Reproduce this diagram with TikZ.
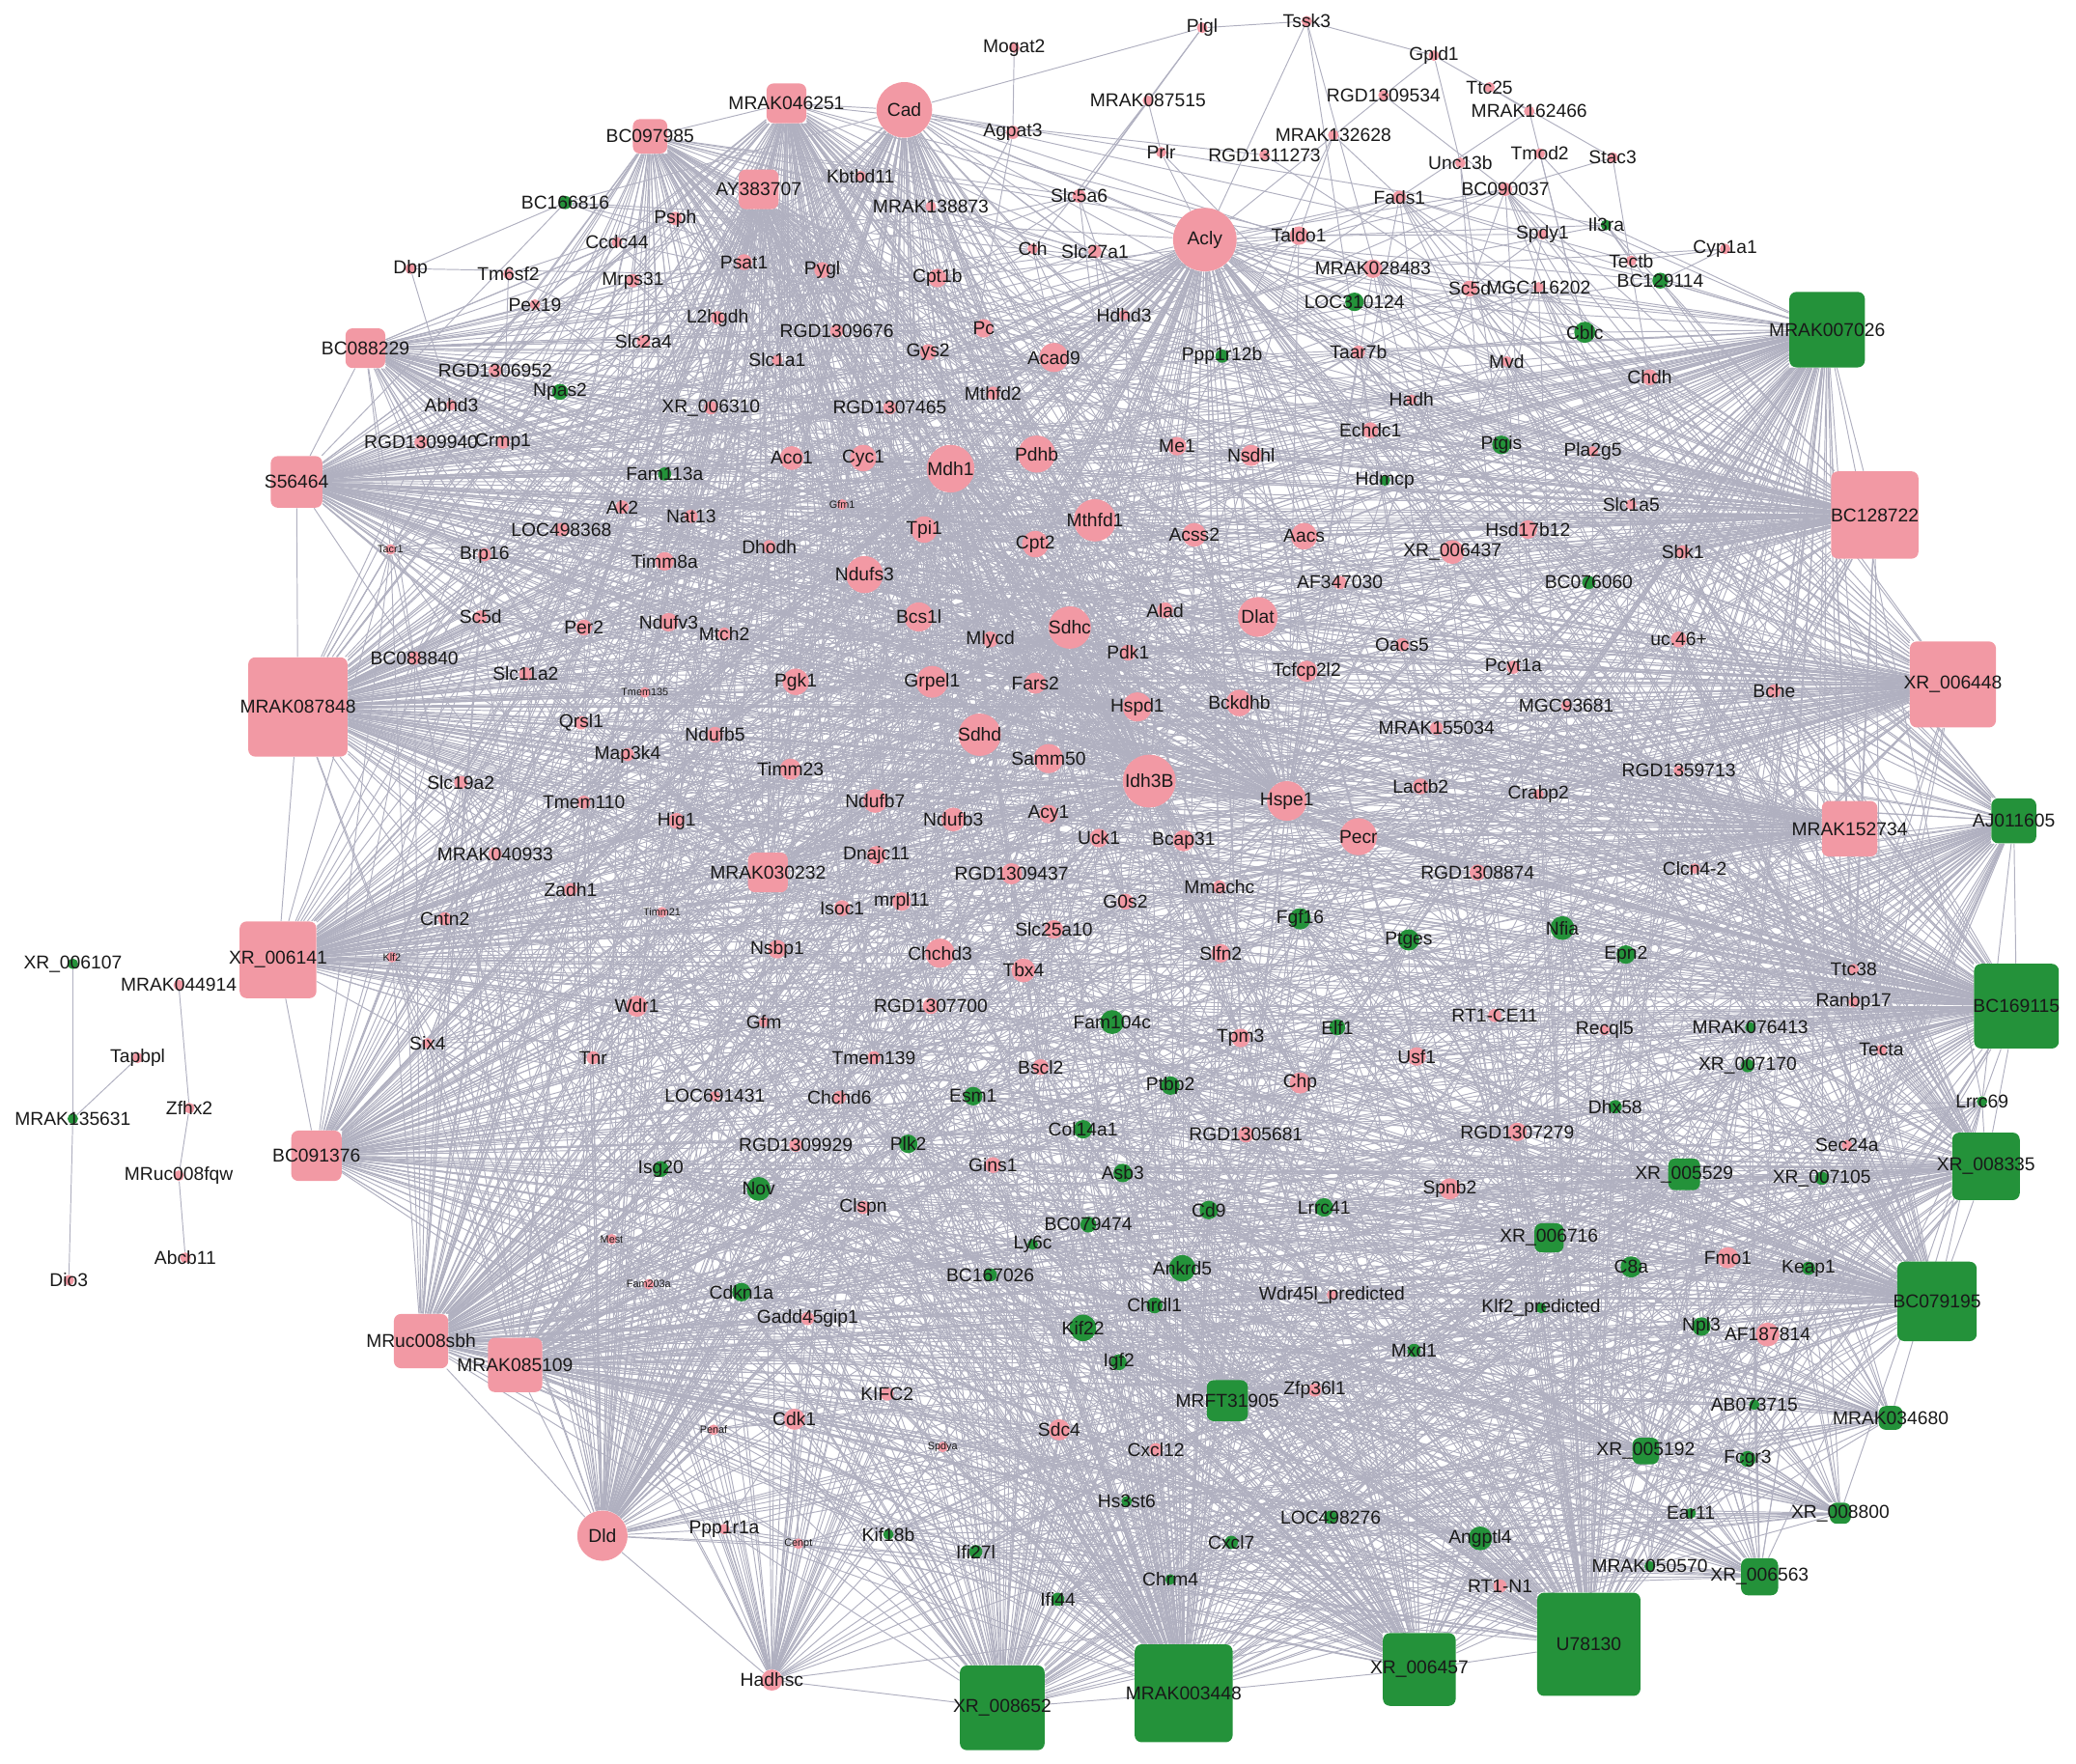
\documentclass[tikz,border=0pt]{standalone}
\usepackage{fontspec}
\setmainfont{Liberation Sans}
\usetikzlibrary{backgrounds}
\definecolor{netpink}{RGB}{242,153,164}
\definecolor{netgreen}{RGB}{36,146,58}
\definecolor{netedge}{RGB}{176,176,192}
\definecolor{nettext}{RGB}{25,25,25}

% target groups of the co-expression fans
\newcommand{\pinkTop}{Psph,Ccdc44,Psat1,Pygl,Cpt1b,Mrps31,Pex19,L2hgdh,RGD1309676,Pc,Slc2a4,Gys2,Slc1a1,Acad9,RGD1306952,Abhd3,XR006310,RGD1307465,Mthfd2,RGD1309940,Crmp1,Aco1,Cyc1,Mdh1,Pdhb,Me1,Nsdhl,Cth,Slc27a1,Kbtbd11,MRAK138873,Slc5a6,Taldo1,Hdhd3}
\newcommand{\pinkMid}{Ak2,Nat13,LOC498368,Gfm1,Tpi1,Cpt2,Mthfd1,Acss2,Aacs,Tacr1,Brp16,Dhodh,Timm8a,Ndufs3,AF347030,Ndufv3,Sc5dB,Per2,Mtch2,Bcs1l,Mlycd,Sdhc,Alad,Dlat,Pdk1,BC088840,Slc11a2,Tmem135,Pgk1,Grpel1,Fars2,Tcfcp2l2,Hspd1,Bckdhb,Qrsl1,Ndufb5,Sdhd,Map3k4,Timm23,Samm50,Idh3B}
\newcommand{\pinkLow}{Slc19a2,Tmem110,Ndufb7,Hspe1,Hig1,Ndufb3,Acy1,MRAK040933,Dnajc11,Uck1,Bcap31,Pecr,RGD1309437,Zadh1,Mmachc,Isoc1,mrpl11,G0s2,Cntn2,Timm21,Klf2,Nsbp1,Chchd3,Slc25a10,Tbx4,Slfn2,Wdr1,Gfm,RGD1307700,Tpm3,Six4,Tnr,Tmem139,Bscl2,LOC691431,Chchd6,Chp}
\newcommand{\pinkRight}{Fads1,BC090037,MRAK028483,Sc5d,MGC116202,Taar7b,Mvd,Chdh,Hadh,Echdc1,Pla2g5,Slc1a5,Hsd17b12,XR006437,Sbk1,Oacs5,uc46,Pcyt1a,MGC93681,Bche,MRAK155034,RGD1359713,Lactb2,Crabp2,RGD1308874,Clcn4-2,RT1-CE11,Recql5,Ttc38,Ranbp17,Usf1,Tecta,RGD1305681,RGD1307279,Spnb2,Sec24a}
\newcommand{\pinkBot}{RGD1309929,Gins1,Clspn,Mest,Fam203a,Gadd45gip1,Wdr45l,Fmo1,AF187814,Zfp36l1,KIFC2,Penaf,Cdk1,Sdc4,Spdya,Cxcl12,Ppp1r1a,Cenpt,RT1-N1}
\newcommand{\greenAll}{Fgf16,Ptges,Nfia,Epn2,Fam104c,Elf1,MRAK076413,XR007170,Esm1,Ptbp2,Dhx58,Lrrc69,Col14a1,Plk2,Asb3,Nov,Isg20,XR007105,Cd9,Lrrc41,Ly6c,BC079474,C8a,Keap1,Cdkn1a,BC167026,Ankrd5,Chrdl1,Klf2p,Npl3,Kif22,Mxd1,Igf2,AB073715,Fcgr3,Hs3st6,Kif18b,Ifi27l,Cxcl7,LOC498276,Angptl4,Ear11,Chrm4,Ifi44,MRAK050570}
\newcommand{\greenTop}{BC166816,Il3ra,BC129114,LOC310124,Cblc,Ppp1r12b,Npas2,Ptgis,Fam113a,Hdmcp,BC076060}

\begin{document}
\begin{tikzpicture}[x=0.02cm, y=-0.02cm,
    pk/.style={circle, fill=netpink, inner sep=0pt, minimum size={#1*0.02cm}},
    gn/.style={circle, fill=netgreen, inner sep=0pt, minimum size={#1*0.02cm}},
    pksq/.style={rectangle, rounded corners=3pt, fill=netpink, inner sep=0pt, minimum size={#1*0.02cm}},
    gnsq/.style={rectangle, rounded corners=3pt, fill=netgreen, inner sep=0pt, minimum size={#1*0.02cm}},
    every label/.style={font=\fontsize{8}{9}\selectfont, text=nettext, inner sep=0pt},
    tinylab/.style={label={[font=\fontsize{4.5}{5}\selectfont]center:#1}},
    link/.style={draw=netedge, line width=0.4pt}
  ]
  \useasboundingbox (0,0) rectangle (1568,1332);

  % top, sparse
  \node[pk=8, label=center:Mogat2] (Mogat2) at (766,36) {};
  \node[pk=8, label=center:Pigl] (Pigl) at (908,21) {};
  \node[pk=8, label=center:Tssk3] (Tssk3) at (987,16) {};
  \node[pk=8, label=center:Gpld1] (Gpld1) at (1083,42) {};
  \node[pk=8, label=center:Ttc25] (Ttc25) at (1125,66) {};
  \node[pk=8, label=center:MRAK162466] (MRAK162466) at (1155,84) {};
  \node[pk=8, label=center:RGD1309534] (RGD1309534) at (1045,72) {};
  \node[pk=8, label=center:MRAK087515] (MRAK087515) at (867,76) {};
  \node[pk=10, label=center:Agpat3] (Agpat3) at (765,100) {};
  \node[pk=8, label=center:MRAK132628] (MRAK132628) at (1007,102) {};
  \node[pk=8, label=center:Prlr] (Prlr) at (877,115) {};
  \node[pk=8, label=center:RGD1311273] (RGD1311273) at (955,117) {};
  \node[pk=8, label=center:Unc13b] (Unc13b) at (1103,123) {};
  \node[pk=8, label=center:Tmod2] (Tmod2) at (1163,116) {};
  \node[pk=8, label=center:Stac3] (Stac3) at (1218,119) {};
  \node[pk=8, label=center:Spdy1] (Spdy1) at (1165,177) {};
  \node[pk=8, label=center:Cyp1a1] (Cyp1a1) at (1303,188) {};
  \node[pk=8, label=center:Tectb] (Tectb) at (1232,197) {};
  \node[pk=8, label=center:Dbp] (Dbp) at (310,203) {};
  \node[pk=8, label=center:Tm6sf2] (Tm6sf2) at (384,207) {};

  % pink, upper
  \node[pk=10, label=center:Psph] (Psph) at (510,165) {};
  \node[pk=8, label=center:Ccdc44] (Ccdc44) at (466,183) {};
  \node[pk=12, label=center:Psat1] (Psat1) at (562,198) {};
  \node[pk=12, label=center:Pygl] (Pygl) at (621,204) {};
  \node[pk=14, label=center:Cpt1b] (Cpt1b) at (708,210) {};
  \node[pk=10, label=center:Mrps31] (Mrps31) at (478,212) {};
  \node[pk=8, label=center:Pex19] (Pex19) at (404,230) {};
  \node[pk=10, label=center:L2hgdh] (L2hgdh) at (542,240) {};
  \node[pk=10, label=center:RGD1309676] (RGD1309676) at (632,250) {};
  \node[pk=14, label=center:Pc] (Pc) at (743,248) {};
  \node[pk=10, label=center:Slc2a4] (Slc2a4) at (486,258) {};
  \node[pk=12, label=center:Gys2] (Gys2) at (701,266) {};
  \node[pk=8, label=center:Slc1a1] (Slc1a1) at (587,272) {};
  \node[pk=22, label=center:Acad9] (Acad9) at (796,270) {};
  \node[pk=10, label=center:RGD1306952] (RGD1306952) at (374,280) {};
  \node[pk=8, label=center:Abhd3] (Abhd3) at (341,306) {};
  \node[pk=10, label=center:XR\_006310] (XR006310) at (537,308) {};
  \node[pk=10, label=center:RGD1307465] (RGD1307465) at (672,308) {};
  \node[pk=10, label=center:Mthfd2] (Mthfd2) at (750,297) {};
  \node[pk=10, label=center:RGD1309940] (RGD1309940) at (318,334) {};
  \node[pk=10, label=center:Crmp1] (Crmp1) at (380,334) {};
  \node[pk=18, label=center:Aco1] (Aco1) at (598,346) {};
  \node[pk=20, label=center:Cyc1] (Cyc1) at (652,346) {};
  \node[pk=36, label=center:Mdh1] (Mdh1) at (718,354) {};
  \node[pk=28, label=center:Pdhb] (Pdhb) at (783,343) {};
  \node[pk=14, label=center:Me1] (Me1) at (889,337) {};
  \node[pk=16, label=center:Nsdhl] (Nsdhl) at (945,344) {};
  \node[pk=8, label=center:Cth] (Cth) at (780,188) {};
  \node[pk=10, label=center:Slc27a1] (Slc27a1) at (827,190) {};
  \node[pk=8, label=center:Kbtbd11] (Kbtbd11) at (650,133) {};
  \node[pk=8, label=center:MRAK138873] (MRAK138873) at (703,156) {};
  \node[pk=10, label=center:Slc5a6] (Slc5a6) at (815,148) {};
  \node[pk=14, label=center:Taldo1] (Taldo1) at (981,178) {};
  \node[pk=8, label=center:Hdhd3] (Hdhd3) at (849,238) {};

  % pink, middle
  \node[pk=10, label=center:Ak2] (Ak2) at (470,383) {};
  \node[pk=10, label=center:Nat13] (Nat13) at (522,390) {};
  \node[pk=10, label=center:LOC498368] (LOC498368) at (424,400) {};
  \node[pk=8, tinylab=Gfm1] (Gfm1) at (636,381) {};
  \node[pk=20, label=center:Tpi1] (Tpi1) at (698,400) {};
  \node[pk=20, label=center:Cpt2] (Cpt2) at (782,411) {};
  \node[pk=32, label=center:Mthfd1] (Mthfd1) at (827,393) {};
  \node[pk=18, label=center:Acss2] (Acss2) at (902,404) {};
  \node[pk=20, label=center:Aacs] (Aacs) at (985,405) {};
  \node[pk=8, tinylab=Tacr1] (Tacr1) at (295,415) {};
  \node[pk=10, label=center:Brp16] (Brp16) at (366,419) {};
  \node[pk=10, label=center:Dhodh] (Dhodh) at (581,413) {};
  \node[pk=14, label=center:Timm8a] (Timm8a) at (502,424) {};
  \node[pk=28, label=center:Ndufs3] (Ndufs3) at (653,434) {};
  \node[pk=10, label=center:AF347030] (AF347030) at (1012,440) {};
  \node[pk=14, label=center:Ndufv3] (Ndufv3) at (505,470) {};
  \node[pk=10, label=center:Sc5d] (Sc5dB) at (363,466) {};
  \node[pk=12, label=center:Per2] (Per2) at (441,474) {};
  \node[pk=10, label=center:Mtch2] (Mtch2) at (547,479) {};
  \node[pk=22, label=center:Bcs1l] (Bcs1l) at (694,466) {};
  \node[pk=12, label=center:Mlycd] (Mlycd) at (748,483) {};
  \node[pk=32, label=center:Sdhc] (Sdhc) at (808,474) {};
  \node[pk=12, label=center:Alad] (Alad) at (880,461) {};
  \node[pk=30, label=center:Dlat] (Dlat) at (950,466) {};
  \node[pk=12, label=center:Pdk1] (Pdk1) at (852,493) {};
  \node[pk=10, label=center:BC088840] (BC088840) at (313,497) {};
  \node[pk=10, label=center:Slc11a2] (Slc11a2) at (397,509) {};
  \node[pk=8, tinylab=Tmem135] (Tmem135) at (487,523) {};
  \node[pk=20, label=center:Pgk1] (Pgk1) at (601,515) {};
  \node[pk=24, label=center:Grpel1] (Grpel1) at (704,515) {};
  \node[pk=16, label=center:Fars2] (Fars2) at (782,516) {};
  \node[pk=16, label=center:Tcfcp2l2] (Tcfcp2l2) at (987,507) {};
  \node[pk=22, label=center:Hspd1] (Hspd1) at (859,534) {};
  \node[pk=20, label=center:Bckdhb] (Bckdhb) at (936,531) {};
  \node[pk=10, label=center:Qrsl1] (Qrsl1) at (439,546) {};
  \node[pk=12, label=center:Ndufb5] (Ndufb5) at (540,555) {};
  \node[pk=32, label=center:Sdhd] (Sdhd) at (740,555) {};
  \node[pk=10, label=center:Map3k4] (Map3k4) at (474,570) {};
  \node[pk=16, label=center:Timm23] (Timm23) at (597,581) {};
  \node[pk=22, label=center:Samm50] (Samm50) at (792,573) {};
  \node[pk=40, label=center:Idh3B] (Idh3B) at (868,590) {};

  % pink, lower
  \node[pk=10, label=center:Slc19a2] (Slc19a2) at (348,591) {};
  \node[pk=10, label=center:Tmem110] (Tmem110) at (441,606) {};
  \node[pk=18, label=center:Ndufb7] (Ndufb7) at (661,605) {};
  \node[pk=30, label=center:Hspe1] (Hspe1) at (972,605) {};
  \node[pk=12, label=center:Hig1] (Hig1) at (511,620) {};
  \node[pk=18, label=center:Ndufb3] (Ndufb3) at (720,619) {};
  \node[pk=14, label=center:Acy1] (Acy1) at (792,615) {};
  \node[pk=10, label=center:MRAK040933] (MRAK040933) at (374,645) {};
  \node[pk=14, label=center:Dnajc11] (Dnajc11) at (662,646) {};
  \node[pk=14, label=center:Uck1] (Uck1) at (830,633) {};
  \node[pk=16, label=center:Bcap31] (Bcap31) at (894,635) {};
  \node[pk=28, label=center:Pecr] (Pecr) at (1026,632) {};
  \node[pk=16, label=center:RGD1309437] (RGD1309437) at (764,660) {};
  \node[pk=10, label=center:Zadh1] (Zadh1) at (431,672) {};
  \node[pk=10, label=center:Mmachc] (Mmachc) at (921,670) {};
  \node[pk=12, label=center:Isoc1] (Isoc1) at (636,686) {};
  \node[pk=14, label=center:mrpl11] (mrpl11) at (681,681) {};
  \node[pk=12, label=center:G0s2] (G0s2) at (850,681) {};
  \node[pk=10, label=center:Cntn2] (Cntn2) at (336,694) {};
  \node[pk=8, tinylab=Timm21] (Timm21) at (500,689) {};
  \node[pk=8, tinylab=Klf2] (Klf2) at (296,723) {};
  \node[pk=14, label=center:Nsbp1] (Nsbp1) at (587,717) {};
  \node[pk=22, label=center:Chchd3] (Chchd3) at (710,720) {};
  \node[pk=14, label=center:Slc25a10] (Slc25a10) at (796,702) {};
  \node[pk=18, label=center:Tbx4] (Tbx4) at (773,733) {};
  \node[pk=14, label=center:Slfn2] (Slfn2) at (922,720) {};
  \node[pk=16, label=center:Wdr1] (Wdr1) at (481,760) {};
  \node[pk=8, label=center:Gfm] (Gfm) at (577,772) {};
  \node[pk=12, label=center:RGD1307700] (RGD1307700) at (703,760) {};
  \node[pk=14, label=center:Tpm3] (Tpm3) at (937,784) {};
  \node[pk=8, label=center:Six4] (Six4) at (323,788) {};
  \node[pk=10, label=center:Tnr] (Tnr) at (448,799) {};
  \node[pk=10, label=center:Tmem139] (Tmem139) at (660,799) {};
  \node[pk=12, label=center:Bscl2] (Bscl2) at (786,806) {};
  \node[pk=8, label=center:LOC691431] (LOC691431) at (540,828) {};
  \node[pk=10, label=center:Chchd6] (Chchd6) at (634,829) {};
  \node[pk=16, label=center:Chp] (Chp) at (982,818) {};

  % pink, right side
  \node[pk=10, label=center:Fads1] (Fads1) at (1057,149) {};
  \node[pk=10, label=center:BC090037] (BC090037) at (1137,143) {};
  \node[pk=14, label=center:MRAK028483] (MRAK028483) at (1037,203) {};
  \node[pk=12, label=center:Sc5d] (Sc5d) at (1110,218) {};
  \node[pk=8, label=center:MGC116202] (MGC116202) at (1162,217) {};
  \node[pk=10, label=center:Taar7b] (Taar7b) at (1026,266) {};
  \node[pk=8, label=center:Mvd] (Mvd) at (1138,273) {};
  \node[pk=12, label=center:Chdh] (Chdh) at (1246,285) {};
  \node[pk=8, label=center:Hadh] (Hadh) at (1066,302) {};
  \node[pk=12, label=center:Echdc1] (Echdc1) at (1035,325) {};
  \node[pk=8, label=center:Pla2g5] (Pla2g5) at (1203,341) {};
  \node[pk=8, label=center:Slc1a5] (Slc1a5) at (1232,381) {};
  \node[pk=14, label=center:Hsd17b12] (Hsd17b12) at (1154,400) {};
  \node[pk=18, label=center:XR\_006437] (XR006437) at (1097,417) {};
  \node[pk=10, label=center:Sbk1] (Sbk1) at (1271,417) {};
  \node[pk=10, label=center:Oacs5] (Oacs5) at (1059,487) {};
  \node[pk=12, label=center:uc.46+] (uc46) at (1268,483) {};
  \node[pk=10, label=center:Pcyt1a] (Pcyt1a) at (1143,504) {};
  \node[pk=8, label=center:MGC93681] (MGC93681) at (1183,533) {};
  \node[pk=10, label=center:Bche] (Bche) at (1340,522) {};
  \node[pk=10, label=center:MRAK155034] (MRAK155034) at (1085,550) {};
  \node[pk=8, label=center:RGD1359713] (RGD1359713) at (1268,582) {};
  \node[pk=12, label=center:Lactb2] (Lactb2) at (1073,594) {};
  \node[pk=8, label=center:Crabp2] (Crabp2) at (1162,600) {};
  \node[pk=12, label=center:RGD1308874] (RGD1308874) at (1116,659) {};
  \node[pk=8, label=center:Clcn4-2] (Clcn4-2) at (1280,656) {};
  \node[pk=10, label=center:RT1-CE11] (RT1-CE11) at (1129,767) {};
  \node[pk=8, label=center:Recql5] (Recql5) at (1212,778) {};
  \node[pk=8, label=center:Ttc38] (Ttc38) at (1400,732) {};
  \node[pk=8, label=center:Ranbp17] (Ranbp17) at (1400,757) {};
  \node[pk=14, label=center:Usf1] (Usf1) at (1070,798) {};
  \node[pk=8, label=center:Tecta] (Tecta) at (1421,793) {};
  \node[pk=12, label=center:RGD1305681] (RGD1305681) at (941,857) {};
  \node[pk=14, label=center:RGD1307279] (RGD1307279) at (1146,855) {};
  \node[pk=16, label=center:Spnb2] (Spnb2) at (1095,898) {};
  \node[pk=8, label=center:Sec24a] (Sec24a) at (1395,865) {};

  % pink, bottom
  \node[pk=10, label=center:RGD1309929] (RGD1309929) at (601,865) {};
  \node[pk=12, label=center:Gins1] (Gins1) at (750,880) {};
  \node[pk=10, label=center:Clspn] (Clspn) at (652,912) {};
  \node[pk=8, tinylab=Mest] (Mest) at (462,936) {};
  \node[pk=8, tinylab=Fam203a] (Fam203a) at (490,970) {};
  \node[pk=10, label=center:Gadd45gip1] (Gadd45gip1) at (610,996) {};
  \node[pk=8, label=center:Wdr45l\_predicted] (Wdr45l) at (1006,978) {};
  \node[pk=16, label=center:Fmo1] (Fmo1) at (1305,950) {};
  \node[pk=18, label=center:AF187814] (AF187814) at (1335,1008) {};
  \node[pk=10, label=center:Zfp36l1] (Zfp36l1) at (993,1050) {};
  \node[pk=10, label=center:KIFC2] (KIFC2) at (670,1053) {};
  \node[pk=8, tinylab=Penaf] (Penaf) at (539,1080) {};
  \node[pk=16, label=center:Cdk1] (Cdk1) at (600,1072) {};
  \node[pk=16, label=center:Sdc4] (Sdc4) at (800,1080) {};
  \node[pk=8, tinylab=Spdya] (Spdya) at (712,1093) {};
  \node[pk=10, label=center:Cxcl12] (Cxcl12) at (873,1095) {};
  \node[pk=8, label=center:Ppp1r1a] (Ppp1r1a) at (547,1155) {};
  \node[pk=8, tinylab=Cenpt] (Cenpt) at (603,1166) {};
  \node[pk=10, label=center:RT1-N1] (RT1-N1) at (1133,1198) {};

  % green dots
  \node[gn=10, label=center:BC166816] (BC166816) at (427,153) {};
  \node[gn=8, label=center:Il3ra] (Il3ra) at (1213,170) {};
  \node[gn=12, label=center:BC129114] (BC129114) at (1254,212) {};
  \node[gn=14, label=center:LOC310124] (LOC310124) at (1023,228) {};
  \node[gn=16, label=center:Cblc] (Cblc) at (1197,251) {};
  \node[gn=10, label=center:Ppp1r12b] (Ppp1r12b) at (923,269) {};
  \node[gn=12, label=center:Npas2] (Npas2) at (423,296) {};
  \node[gn=14, label=center:Ptgis] (Ptgis) at (1134,336) {};
  \node[gn=10, label=center:Fam113a] (Fam113a) at (502,358) {};
  \node[gn=8, label=center:Hdmcp] (Hdmcp) at (1046,363) {};
  \node[gn=10, label=center:BC076060] (BC076060) at (1200,440) {};
  \node[gn=16, label=center:Fgf16] (Fgf16) at (982,694) {};
  \node[gn=16, label=center:Ptges] (Ptges) at (1064,710) {};
  \node[gn=18, label=center:Nfia] (Nfia) at (1180,701) {};
  \node[gn=14, label=center:Epn2] (Epn2) at (1228,721) {};
  \node[gn=18, label=center:Fam104c] (Fam104c) at (840,772) {};
  \node[gn=12, label=center:Elf1] (Elf1) at (1010,776) {};
  \node[gn=8, label=center:MRAK076413] (MRAK076413) at (1322,776) {};
  \node[gn=10, label=center:XR\_007170] (XR007170) at (1320,805) {};
  \node[gn=14, label=center:Esm1] (Esm1) at (735,828) {};
  \node[gn=14, label=center:Ptbp2] (Ptbp2) at (884,820) {};
  \node[gn=10, label=center:Dhx58] (Dhx58) at (1220,836) {};
  \node[gn=8, label=center:Lrrc69] (Lrrc69) at (1497,832) {};
  \node[gn=14, label=center:Col14a1] (Col14a1) at (818,853) {};
  \node[gn=14, label=center:Plk2] (Plk2) at (686,864) {};
  \node[gn=14, label=center:Asb3] (Asb3) at (848,886) {};
  \node[gn=18, label=center:Nov] (Nov) at (573,898) {};
  \node[gn=12, label=center:Isg20] (Isg20) at (499,883) {};
  \node[gn=10, label=center:XR\_007105] (XR007105) at (1376,890) {};
  \node[gn=14, label=center:Cd9] (Cd9) at (913,914) {};
  \node[gn=14, label=center:Lrrc41] (Lrrc41) at (1000,912) {};
  \node[gn=8, label=center:Ly6c] (Ly6c) at (780,940) {};
  \node[gn=12, label=center:BC079474] (BC079474) at (822,925) {};
  \node[gn=16, label=center:C8a] (C8a) at (1232,957) {};
  \node[gn=10, label=center:Keap1] (Keap1) at (1366,958) {};
  \node[gn=14, label=center:Cdkn1a] (Cdkn1a) at (560,976) {};
  \node[gn=10, label=center:BC167026] (BC167026) at (748,963) {};
  \node[gn=20, label=center:Ankrd5] (Ankrd5) at (893,958) {};
  \node[gn=12, label=center:Chrdl1] (Chrdl1) at (872,986) {};
  \node[gn=8, label=center:Klf2\_predicted] (Klf2p) at (1164,988) {};
  \node[gn=14, label=center:Npl3] (Npl3) at (1285,1002) {};
  \node[gn=20, label=center:Kif22] (Kif22) at (818,1003) {};
  \node[gn=10, label=center:Mxd1] (Mxd1) at (1068,1020) {};
  \node[gn=12, label=center:Igf2] (Igf2) at (845,1029) {};
  \node[gn=8, label=center:AB073715] (AB073715) at (1325,1061) {};
  \node[gn=12, label=center:Fcgr3] (Fcgr3) at (1320,1102) {};
  \node[gn=8, label=center:Hs3st6] (Hs3st6) at (851,1134) {};
  \node[gn=8, label=center:Kif18b] (Kif18b) at (671,1159) {};
  \node[gn=10, label=center:Ifi27l] (Ifi27l) at (737,1172) {};
  \node[gn=10, label=center:Cxcl7] (Cxcl7) at (930,1165) {};
  \node[gn=10, label=center:LOC498276] (LOC498276) at (1005,1146) {};
  \node[gn=18, label=center:Angptl4] (Angptl4) at (1118,1162) {};
  \node[gn=8, label=center:Ear11] (Ear11) at (1277,1143) {};
  \node[gn=8, label=center:Chrm4] (Chrm4) at (884,1193) {};
  \node[gn=10, label=center:Ifi44] (Ifi44) at (799,1208) {};
  \node[gn=8, label=center:MRAK050570] (MRAK050570) at (1246,1183) {};

  % left, detached
  \node[gn=8, label=center:XR\_006107] (XR006107) at (55,728) {};
  \node[gn=8, label=center:MRAK135631] (MRAK135631) at (55,845) {};
  \node[pk=8, label=center:Dio3] (Dio3) at (52,967) {};
  \node[pk=8, label=center:Tapbpl] (Tapbpl) at (104,799) {};
  \node[pk=8, label=center:MRAK044914] (MRAK044914) at (135,744) {};
  \node[pk=8, label=center:Zfhx2] (Zfhx2) at (143,837) {};
  \node[pk=8, label=center:MRuc008fqw] (MRuc008fqw) at (135,888) {};
  \node[pk=8, label=center:Abcb11] (Abcb11) at (140,950) {};

  % hubs, pink
  \node[pk=42, label=center:Cad] (Cad) at (683,83) {};
  \node[pk=48, label=center:Acly] (Acly) at (910,181) {};
  \node[pk=38, label=center:Dld] (Dld) at (455,1160) {};
  \node[pk=16, label=center:Hadhsc] (Hadhsc) at (583,1269) {};
  \node[pksq=30, label=center:MRAK046251] (MRAK046251) at (594,78) {};
  \node[pksq=26, label=center:BC097985] (BC097985) at (491,103) {};
  \node[pksq=30, label=center:AY383707] (AY383707) at (573,143) {};
  \node[pksq=30, label=center:BC088229] (BC088229) at (276,263) {};
  \node[pksq=39, label=center:S56464] (S56464) at (224,364) {};
  \node[pksq=75, label=center:MRAK087848] (MRAK087848) at (225,534) {};
  \node[pksq=30, label=center:MRAK030232] (MRAK030232) at (580,659) {};
  \node[pksq=58, label=center:XR\_006141] (XR006141) at (210,725) {};
  \node[pksq=38, label=center:BC091376] (BC091376) at (239,873) {};
  \node[pksq=41, label=center:MRuc008sbh] (MRuc008sbh) at (318,1013) {};
  \node[pksq=41, label=center:MRAK085109] (MRAK085109) at (389,1031) {};
  \node[pksq=66, label=center:BC128722] (BC128722) at (1416,389) {};
  \node[pksq=65, label=center:XR\_006448] (XR006448) at (1475,517) {};
  \node[pksq=42, label=center:MRAK152734] (MRAK152734) at (1397,626) {};

  % hubs, green
  \node[gnsq=57, label=center:MRAK007026] (MRAK007026) at (1380,249) {};
  \node[gnsq=34, label=center:AJ011605] (AJ011605) at (1521,620) {};
  \node[gnsq=64, label=center:BC169115] (BC169115) at (1523,760) {};
  \node[gnsq=51, label=center:XR\_008335] (XR008335) at (1500,881) {};
  \node[gnsq=24, label=center:XR\_005529] (XR005529) at (1272,887) {};
  \node[gnsq=22, label=center:XR\_006716] (XR006716) at (1170,935) {};
  \node[gnsq=60, label=center:BC079195] (BC079195) at (1463,983) {};
  \node[gnsq=31, label=center:MRFT31905] (MRFT31905) at (927,1058) {};
  \node[gnsq=20, label=center:XR\_005192] (XR005192) at (1243,1096) {};
  \node[gnsq=18, label=center:MRAK034680] (MRAK034680) at (1428,1071) {};
  \node[gnsq=16, label=center:XR\_008800] (XR008800) at (1390,1143) {};
  \node[gnsq=28, label=center:XR\_006563] (XR006563) at (1329,1191) {};
  \node[gnsq=78, label=center:U78130] (U78130) at (1200,1242) {};
  \node[gnsq=55, label=center:XR\_006457] (XR006457) at (1072,1261) {};
  \node[gnsq=74, label=center:MRAK003448] (MRAK003448) at (894,1279) {};
  \node[gnsq=64, label=center:XR\_008652] (XR008652) at (757,1290) {};

  % Edges
  \begin{pgfonlayer}{background}
    \foreach \h in {MRAK087848,S56464,BC088229,BC097985,MRAK046251,BC128722,Idh3B,Hspe1}
      \foreach \t in \pinkTop {\draw[link] (\h) -- (\t);}
    \foreach \h in {MRAK087848,XR006141,S56464,BC088229,BC097985,MRAK046251,AY383707,Cad,Acly,BC091376,MRuc008sbh,Dld,MRAK030232,BC128722,XR006448,MRAK152734,MRAK007026,BC169115,MRAK003448,Mdh1,Hspe1}
      \foreach \t in \pinkMid {\draw[link] (\h) -- (\t);}
    \foreach \h in {MRAK087848,XR006141,MRAK046251,AY383707,Cad,Acly,BC091376,MRuc008sbh,MRAK085109,Dld,Hadhsc,XR006448,MRAK152734,BC169115,BC079195,U78130,XR006457,MRAK003448,XR008652,Idh3B,Mdh1,Sdhc}
      \foreach \t in \pinkLow {\draw[link] (\h) -- (\t);}
    \foreach \h in {MRAK087848,XR006141,S56464,Acly,BC128722,XR006448,MRAK007026,AJ011605,BC169115,XR008335,BC079195,U78130,Hspe1}
      \foreach \t in \pinkRight {\draw[link] (\h) -- (\t);}
    \foreach \h in {MRAK085109,MRuc008sbh,Dld,Hadhsc,XR008335,BC079195,U78130,XR006457,MRAK003448,XR008652}
      \foreach \t in \pinkBot {\draw[link] (\h) -- (\t);}
    \foreach \h in {BC091376,MRuc008sbh,MRAK085109,MRAK007026,AJ011605,BC169115,XR008335,BC079195,U78130,XR006457,MRAK003448,XR008652,MRFT31905,XR006716,XR005529,XR005192,XR006563,XR008800,MRAK034680}
      \foreach \t in \greenAll {\draw[link] (\h) -- (\t);}
    \foreach \h in {MRAK007026,BC128722,Acly,Cad,S56464,XR006448}
      \foreach \t in \greenTop {\draw[link] (\h) -- (\t);}
    \foreach \a/\b in {Cad/Pigl,Pigl/Tssk3,Tssk3/Gpld1,Pigl/Slc5a6,Pigl/MRAK087515,Tssk3/Acly,Tssk3/Echdc1,Tssk3/Hadh,Gpld1/Unc13b,Gpld1/Ttc25,Gpld1/RGD1309534,Ttc25/Stac3,Ttc25/MRAK162466,MRAK162466/Fads1,MRAK162466/Cblc,Mogat2/Agpat3,Agpat3/Cad,Agpat3/Mdh1,Agpat3/Cpt1b,MRAK087515/Prlr,MRAK087515/Slc5a6,MRAK087515/Cth,Prlr/Acly,Prlr/Hsd17b12,RGD1311273/MRAK046251,RGD1311273/Sc5d,RGD1309534/Acly,RGD1309534/BC090037,MRAK132628/Taldo1,MRAK132628/Me1,MRAK132628/Fads1,Unc13b/Sc5d,Unc13b/Ptgis,Tmod2/BC090037,Tmod2/Cblc,Stac3/BC090037,Stac3/Chdh,Spdy1/Sc5d,Spdy1/Taldo1,Spdy1/Ptgis,Cyp1a1/Tectb,Cyp1a1/BC129114,Cyp1a1/MRAK028483,Tectb/Il3ra,Tectb/Fads1,Il3ra/Tmod2,BC129114/MRAK007026,Dbp/BC166816,Dbp/Abhd3,Dbp/Cpt1b,Tm6sf2/Psph,Tm6sf2/Slc2a4,Tm6sf2/Crmp1,BC097985/MRAK046251,MRAK046251/Cad,Cad/Acly,BC088229/S56464,S56464/MRAK087848,MRAK087848/XR006141,XR006141/BC091376,BC128722/MRAK007026,AJ011605/BC169115,BC169115/XR008335,XR008335/BC079195,XR008652/MRAK003448,MRAK003448/XR006457,XR006457/U78130,Hadhsc/XR008652,Dld/Hadhsc,MRuc008sbh/Dld,MRAK085109/Dld,XR006107/MRAK135631,MRAK135631/Dio3,MRAK135631/Tapbpl,MRAK044914/Zfhx2,Zfhx2/MRuc008fqw,MRuc008fqw/Abcb11,Cdk1/Cenpt,Cdk1/Penaf,Cdk1/Spdya,Cdk1/Ppp1r1a}
      \draw[link] (\a) -- (\b);
  \end{pgfonlayer}
\end{tikzpicture}
\end{document}
